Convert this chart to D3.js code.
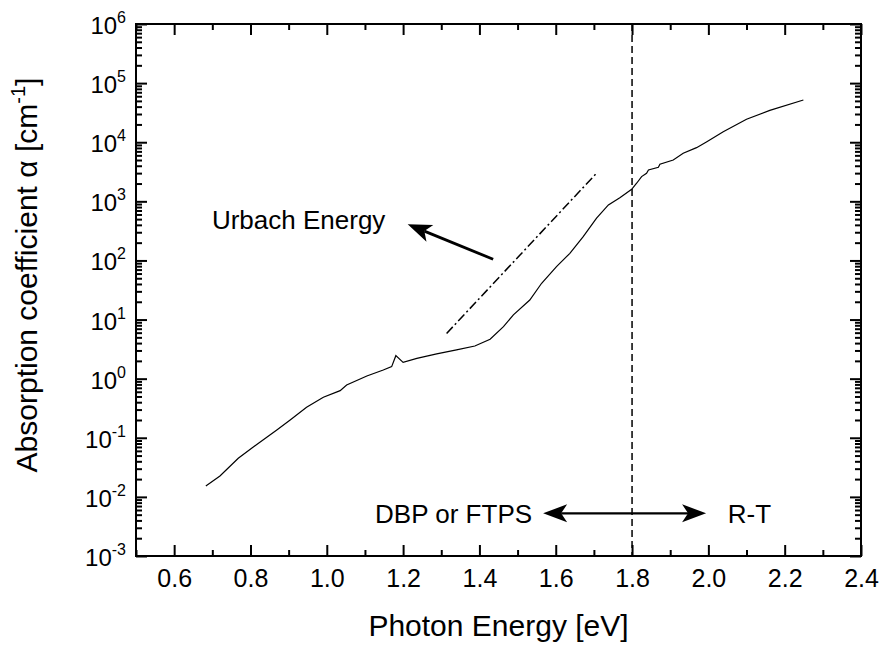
<!DOCTYPE html>
<html>
<head>
<meta charset="utf-8">
<script src="https://cdn.jsdelivr.net/npm/d3@7"></script>
<style>
  html, body { margin: 0; padding: 0; background: #fff; }
  svg { display: block; }
  text { font-family: "Liberation Sans", Arial, sans-serif; fill: #000; }
</style>
</head>
<body>
<svg id="chart" width="884" height="645"></svg>
<script>
// ---- data ----
const energy = [0.683, 0.720, 0.768, 0.803, 0.869, 0.904, 0.947, 0.991, 1.035, 1.052,
  1.105, 1.148, 1.170, 1.181, 1.200, 1.236, 1.288, 1.340, 1.388, 1.428,
  1.463, 1.489, 1.532, 1.563, 1.602, 1.637, 1.672, 1.707, 1.738, 1.768,
  1.799, 1.812, 1.825, 1.838, 1.843, 1.869, 1.873, 1.908, 1.934, 1.969,
  1.996, 2.039, 2.100, 2.161, 2.249];
const alpha = [0.0153, 0.0226, 0.0450, 0.0665, 0.1355, 0.200, 0.328, 0.484, 0.627, 0.782,
  1.11, 1.40, 1.60, 2.45, 1.89, 2.21, 2.62, 3.06, 3.57, 4.65,
  7.59, 12.0, 21.4, 41.1, 78.5, 132, 252, 518, 869, 1153,
  1600, 2023, 2618, 2985, 3396, 3767, 4236, 5012, 6501, 8091,
  10210, 15070, 24430, 34590, 51880];
const urbachEnergy = [1.314, 1.705];
const urbachAlpha = [5.82, 2904];
const xMajorTicks = [0.6, 0.8, 1.0, 1.2, 1.4, 1.6, 1.8, 2.0, 2.2, 2.4];
const xMinorTicks = [0.5, 0.7, 0.9, 1.1, 1.3, 1.5, 1.7, 1.9, 2.1, 2.3];
const yDecadeExponents = [-3, -2, -1, 0, 1, 2, 3, 4, 5, 6];
const boundaryEnergy = 1.8;

// ---- layout ----
const pLeft = 136, pRight = 861, pTop = 24, pBottom = 556;
const svg = d3.select("#chart");
const x = d3.scaleLinear().domain([0.5, 2.4]).range([pLeft, pRight]);
const y = d3.scaleLog().domain([1e-3, 1e6]).range([pBottom, pTop]);

const yMajor = yDecadeExponents.map(e => Math.pow(10, e));
const yMinor = [];
yDecadeExponents.slice(0, -1).forEach(e => { for (let k = 2; k <= 9; k++) yMinor.push(k * Math.pow(10, e)); });

function styleAxis(g) {
  g.select(".domain").remove();
  g.selectAll(".tick line").attr("stroke", "#000").attr("stroke-width", 2);
}

// bottom
svg.append("g").attr("transform", `translate(0,${pBottom})`)
  .call(d3.axisBottom(x).tickValues(xMajorTicks).tickSize(-11).tickSizeOuter(0).tickPadding(13).tickFormat(d3.format(".1f")))
  .call(styleAxis)
  .call(g => g.selectAll("text").attr("font-size", 25).attr("font-family", "Liberation Sans, Arial, sans-serif").attr("fill", "#000"));
svg.append("g").attr("transform", `translate(0,${pBottom})`)
  .call(d3.axisBottom(x).tickValues(xMinorTicks).tickSize(-6).tickSizeOuter(0).tickFormat(""))
  .call(styleAxis);
// top
svg.append("g").attr("transform", `translate(0,${pTop})`)
  .call(d3.axisTop(x).tickValues(xMajorTicks).tickSize(-11).tickSizeOuter(0).tickFormat(""))
  .call(styleAxis);
svg.append("g").attr("transform", `translate(0,${pTop})`)
  .call(d3.axisTop(x).tickValues(xMinorTicks).tickSize(-6).tickSizeOuter(0).tickFormat(""))
  .call(styleAxis);
// left
svg.append("g").attr("transform", `translate(${pLeft},0)`)
  .call(d3.axisLeft(y).tickValues(yMajor).tickSize(-11).tickSizeOuter(0).tickFormat(""))
  .call(styleAxis);
svg.append("g").attr("transform", `translate(${pLeft},0)`)
  .call(d3.axisLeft(y).tickValues(yMinor).tickSize(-6).tickSizeOuter(0).tickFormat(""))
  .call(styleAxis);
// right
svg.append("g").attr("transform", `translate(${pRight},0)`)
  .call(d3.axisRight(y).tickValues(yMajor).tickSize(-11).tickSizeOuter(0).tickFormat(""))
  .call(styleAxis);
svg.append("g").attr("transform", `translate(${pRight},0)`)
  .call(d3.axisRight(y).tickValues(yMinor).tickSize(-6).tickSizeOuter(0).tickFormat(""))
  .call(styleAxis);

// y labels 10^n
const yl = svg.append("g");
yDecadeExponents.forEach(e => {
  const t = yl.append("text")
    .attr("x", pLeft - 10).attr("y", y(Math.pow(10, e)) + 10)
    .attr("text-anchor", "end").attr("font-size", 24);
  t.append("tspan").text("10");
  t.append("tspan").attr("dy", -11).attr("font-size", 16).text(String(e));
});

// frame
svg.append("rect").attr("x", pLeft).attr("y", pTop)
  .attr("width", pRight - pLeft).attr("height", pBottom - pTop)
  .attr("fill", "none").attr("stroke", "#000").attr("stroke-width", 2);

// dashed boundary line
svg.append("line")
  .attr("x1", x(boundaryEnergy)).attr("x2", x(boundaryEnergy))
  .attr("y1", pTop).attr("y2", pBottom)
  .attr("stroke", "#000").attr("stroke-width", 1.5).attr("stroke-dasharray", "7,4");

// data curve
const pts = energy.map((e, i) => [e, alpha[i]]);
svg.append("path").datum(pts)
  .attr("fill", "none").attr("stroke", "#000").attr("stroke-width", 1.2)
  .attr("d", d3.line().x(d => x(d[0])).y(d => y(d[1])));

// Urbach fit line
svg.append("line")
  .attr("x1", x(urbachEnergy[0])).attr("y1", y(urbachAlpha[0]))
  .attr("x2", x(urbachEnergy[1])).attr("y2", y(urbachAlpha[1]))
  .attr("stroke", "#000").attr("stroke-width", 1.5).attr("stroke-dasharray", "9,3,2,3");

// arrows
function arrow(x0, y0, x1, y1, sw) {
  const ang = Math.atan2(y1 - y0, x1 - x0);
  const len = 24, hw = 9, notch = 6;
  const c = Math.cos(ang), s = Math.sin(ang);
  const bx = x1 - len * c, by = y1 - len * s;
  const nx = x1 - (len - notch) * c, ny = y1 - (len - notch) * s;
  svg.append("line").attr("x1", x0).attr("y1", y0).attr("x2", nx).attr("y2", ny)
    .attr("stroke", "#000").attr("stroke-width", sw);
  svg.append("path").attr("fill", "#000")
    .attr("d", `M${x1},${y1}L${bx - hw * s},${by + hw * c}L${nx},${ny}L${bx + hw * s},${by - hw * c}Z`);
}
// Urbach arrow
arrow(x(1.436), y(104.7), x(1.212), y(409), 2.8);
// double arrow
const daY = y(0.00528), daMid = x(boundaryEnergy);
arrow(daMid, daY, x(1.567), daY, 2.2);
arrow(daMid, daY, x(1.994), daY, 2.2);

// annotations
svg.append("text").attr("x", x(0.699)).attr("y", y(341)).attr("font-size", 26).text("Urbach Energy");
svg.append("text").attr("x", x(1.538)).attr("y", y(0.00366)).attr("font-size", 26)
  .attr("text-anchor", "end").text("DBP or FTPS");
svg.append("text").attr("x", x(2.051)).attr("y", y(0.00366)).attr("font-size", 26).text("R-T");

// axis titles
svg.append("text").attr("x", (pLeft + pRight) / 2).attr("y", 636)
  .attr("text-anchor", "middle").attr("font-size", 30).text("Photon Energy [eV]");
const yt = svg.append("text").attr("transform", "translate(37,275) rotate(-90)")
  .attr("text-anchor", "middle").attr("font-size", 30);
yt.append("tspan").text("Absorption coefficient \u03B1 [cm");
yt.append("tspan").attr("dy", -12).attr("font-size", 20).text("-1");
yt.append("tspan").attr("dy", 12).text("]");
</script>
</body>
</html>
